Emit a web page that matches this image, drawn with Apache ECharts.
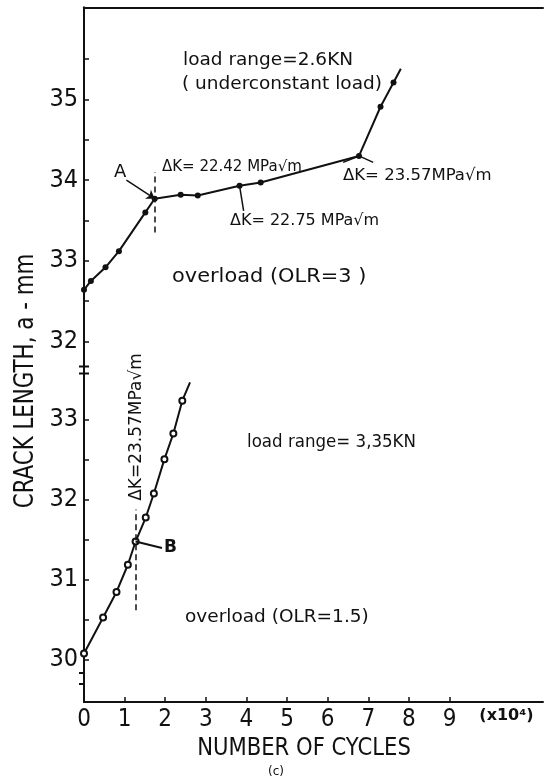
<!DOCTYPE html>
<html><head><meta charset="utf-8">
<script src="https://cdn.jsdelivr.net/npm/echarts@6/dist/echarts.min.js"></script>
<style>html,body{margin:0;padding:0;background:#fff}#c{width:547px;height:781px}</style>
</head><body><div id="c"></div>
<script>
// ---- data ----
const xTicks = [0, 1, 2, 3, 4, 5, 6, 7, 8, 9];
const xUnitPos = 10.4;
const xUnitLabel = '(x10⁴)';
const topTicks = [32, 32.5, 33, 33.5, 34, 34.5, 35, 35.5];
const topLabels = [32, 33, 34, 35];
const bottomTicks = [30, 30.5, 31, 31.5, 32, 32.5, 33];
const bottomLabels = [30, 31, 32, 33];

// load range = 2.6 kN, overload OLR = 3  (cycles x10^4, crack length mm)
const topCycles = [0, 0.17, 0.53, 0.86, 1.51, 1.74, 2.38, 2.8, 3.83, 4.35, 6.77, 7.3, 7.62];
const topLength = [32.64, 32.75, 32.92, 33.12, 33.6, 33.77, 33.82, 33.81, 33.93, 33.97, 34.3, 34.91, 35.21];
const topEnd = [7.8, 35.38];
// load range = 3.35 kN, overload OLR = 1.5
const bottomCycles = [0, 0.47, 0.8, 1.08, 1.27, 1.52, 1.72, 1.98, 2.2, 2.42];
const bottomLength = [30.08, 30.53, 30.85, 31.19, 31.48, 31.78, 32.08, 32.51, 32.83, 33.24];
const bottomEnd = [2.61, 33.47];

// overload markers (dashed) and leader lines, in data units
const pointA = [1.74, 33.77];
const dashA = [1.74, 33.35, 34.1];
const pointB = [1.27, 31.48];
const dashB = [1.27, 30.62, 31.88];
const lowerBreak = [29.84, 29.7];

// ---- chart ----
const INK = '#111';
const NARROW = '"Liberation Sans Narrow", "DejaVu Sans Condensed", sans-serif';
const SANS = '"DejaVu Sans", sans-serif';
const axisLine = {color: INK, width: 2};

const chart = echarts.init(document.getElementById('c'), null, {renderer: 'canvas'});

function pts(xs, ys, end) {
  const d = xs.map((x, i) => [x, ys[i]]);
  d.push({value: end, symbolSize: 0});
  return d;
}

const option = {
  animation: false,
  backgroundColor: '#fff',
  grid: [
    {left: 84, right: 4, top: 7.5, height: 359},
    {left: 84, right: 4, top: 373.5, bottom: 79},
    {left: 84, right: 4, top: 7.5, bottom: 79}
  ],
  xAxis: [
    {gridIndex: 0, type: 'value', min: 0, max: 11.3, position: 'top',
     axisLine: {show: true, lineStyle: axisLine}, axisTick: {show: false},
     axisLabel: {show: false}, splitLine: {show: false}},
    {gridIndex: 1, type: 'value', min: 0, max: 11.3, position: 'bottom',
     axisLine: {show: true, lineStyle: axisLine},
     axisTick: {show: true, inside: true, length: 5, customValues: xTicks, lineStyle: {color: INK, width: 1.5}},
     axisLabel: {show: true, customValues: xTicks.concat([xUnitPos]), margin: 6,
       formatter: v => v > 9.5 ? '{u|' + xUnitLabel + '}' : String(v),
       color: INK, fontFamily: NARROW, fontSize: 24,
       rich: {u: {fontFamily: SANS, fontSize: 16, fontWeight: 'bold', color: INK, padding: [0, 0, 8, 0]}}},
     splitLine: {show: false}},
    {gridIndex: 2, type: 'value', min: 0, max: 1, show: false}
  ],
  yAxis: [
    {gridIndex: 0, type: 'value', min: 31.69, max: 36.14,
     axisLine: {show: true, lineStyle: axisLine, symbol: ['rect', 'none'], symbolSize: [10, 2]},
     axisTick: {show: true, inside: true, length: 5, customValues: topTicks, lineStyle: {color: INK, width: 1.5}},
     axisLabel: {show: true, customValues: topLabels, margin: 6, color: INK, fontFamily: NARROW, fontSize: 25},
     splitLine: {show: false}},
    {gridIndex: 1, type: 'value', min: 29.475, max: 33.58,
     axisLine: {show: true, lineStyle: axisLine, symbol: ['none', 'rect'], symbolSize: [10, 2]},
     axisTick: {show: true, inside: true, length: 5, customValues: bottomTicks, lineStyle: {color: INK, width: 1.5}},
     axisLabel: {show: true, customValues: bottomLabels, margin: 6, color: INK, fontFamily: NARROW, fontSize: 25},
     splitLine: {show: false}},
    {gridIndex: 2, type: 'value', min: 0, max: 1, position: 'right',
     axisLine: {show: true, lineStyle: axisLine}, axisTick: {show: false},
     axisLabel: {show: false}, splitLine: {show: false}},
    {gridIndex: 1, type: 'value', min: 29.475, max: 33.58, position: 'left',
     axisLine: {show: false},
     axisTick: {show: true, inside: false, length: 5, customValues: lowerBreak, lineStyle: {color: INK, width: 2}},
     axisLabel: {show: false}, splitLine: {show: false}}
  ],
  series: [
    {type: 'line', xAxisIndex: 0, yAxisIndex: 0, data: pts(topCycles, topLength, topEnd),
     symbol: 'circle', symbolSize: 6, showAllSymbol: true,
     itemStyle: {color: INK}, lineStyle: {color: INK, width: 2},
     markLine: {silent: true, symbol: 'none', label: {show: false},
       lineStyle: {color: INK, width: 1.5, type: [6, 4]},
       data: [[{coord: [dashA[0], dashA[1]]}, {coord: [dashA[0], dashA[2]]}]]}},
    {type: 'line', xAxisIndex: 0, yAxisIndex: 0, data: [],
     markLine: {silent: true, symbol: 'none', label: {show: false}, symbolSize: 8,
       lineStyle: {color: INK, width: 1.5, type: 'solid'},
       data: [
         [{coord: [1.045, 34.0]}, {coord: pointA, symbol: 'arrow'}],
         [{coord: [3.83, 33.93]}, {coord: [3.93, 33.62]}],
         [{coord: [6.77, 34.3]}, {coord: [6.38, 34.22]}],
         [{coord: [6.77, 34.3]}, {coord: [7.12, 34.22]}]
       ]}},
    {type: 'line', xAxisIndex: 1, yAxisIndex: 1, data: pts(bottomCycles, bottomLength, bottomEnd),
     symbol: 'emptyCircle', symbolSize: 6, showAllSymbol: true,
     itemStyle: {color: INK, borderColor: INK, borderWidth: 2}, lineStyle: {color: INK, width: 2},
     markLine: {silent: true, symbol: 'none', label: {show: false},
       lineStyle: {color: INK, width: 1.5, type: [6, 4]},
       data: [[{coord: [dashB[0], dashB[1]]}, {coord: [dashB[0], dashB[2]]}]]}},
    {type: 'line', xAxisIndex: 1, yAxisIndex: 1, data: [],
     markLine: {silent: true, symbol: 'none', label: {show: false},
       lineStyle: {color: INK, width: 2, type: 'solid'},
       data: [[{coord: pointB}, {coord: [1.92, 31.4]}]]}}
  ],
  graphic: [
    {type: 'text', style: {text: 'load range=2.6KN', x: 183, y: 60, font: '18.5px ' + SANS, fill: INK, verticalAlign: 'middle'}},
    {type: 'text', style: {text: '( underconstant load)', x: 182, y: 84, font: '18.5px ' + SANS, fill: INK, verticalAlign: 'middle'}},
    {type: 'text', style: {text: 'ΔK= 22.42 MPa√m', x: 162, y: 167, font: '15px ' + SANS, fill: INK, verticalAlign: 'middle'}},
    {type: 'text', style: {text: 'ΔK= 22.75 MPa√m', x: 230, y: 221, font: '16px ' + SANS, fill: INK, verticalAlign: 'middle'}},
    {type: 'text', style: {text: 'ΔK= 23.57MPa√m', x: 343, y: 176, font: '16.5px ' + SANS, fill: INK, verticalAlign: 'middle'}},
    {type: 'text', style: {text: 'A', x: 114, y: 172, font: '18px ' + SANS, fill: INK, verticalAlign: 'middle'}},
    {type: 'text', x: 172, y: 277, scaleX: 1.1,
     style: {text: 'overload (OLR=3 )', x: 0, y: 0, font: '19px ' + SANS, fill: INK, verticalAlign: 'middle'}},
    {type: 'text', x: 247, y: 442, scaleX: 0.9,
     style: {text: 'load range= 3,35KN', x: 0, y: 0, font: '18.5px ' + SANS, fill: INK, verticalAlign: 'middle'}},
    {type: 'text', style: {text: 'overload (OLR=1.5)', x: 185, y: 617, font: '18.5px ' + SANS, fill: INK, verticalAlign: 'middle'}},
    {type: 'text', style: {text: 'B', x: 164, y: 548, font: 'bold 17px ' + SANS, fill: INK, verticalAlign: 'middle'}},
    {type: 'text', x: 137, y: 427, rotation: Math.PI / 2,
     style: {text: 'ΔK=23.57MPa√m', x: 0, y: 0, font: '17px ' + SANS, fill: INK, align: 'center', verticalAlign: 'middle'}},
    {type: 'text', x: 26, y: 381, rotation: Math.PI / 2, scaleX: 0.88,
     style: {text: 'CRACK LENGTH, a - mm', x: 0, y: 0, font: '27px ' + NARROW, fill: INK, align: 'center', verticalAlign: 'middle'}},
    {type: 'text', x: 304, y: 748, scaleX: 0.94,
     style: {text: 'NUMBER OF CYCLES', x: 0, y: 0, font: '25px ' + NARROW, fill: INK, align: 'center', verticalAlign: 'middle'}},
    {type: 'text', style: {text: '(c)', x: 276, y: 772, font: '12px ' + SANS, fill: INK, align: 'center', verticalAlign: 'middle'}}
  ]
};
chart.setOption(option);
</script>
</body></html>
